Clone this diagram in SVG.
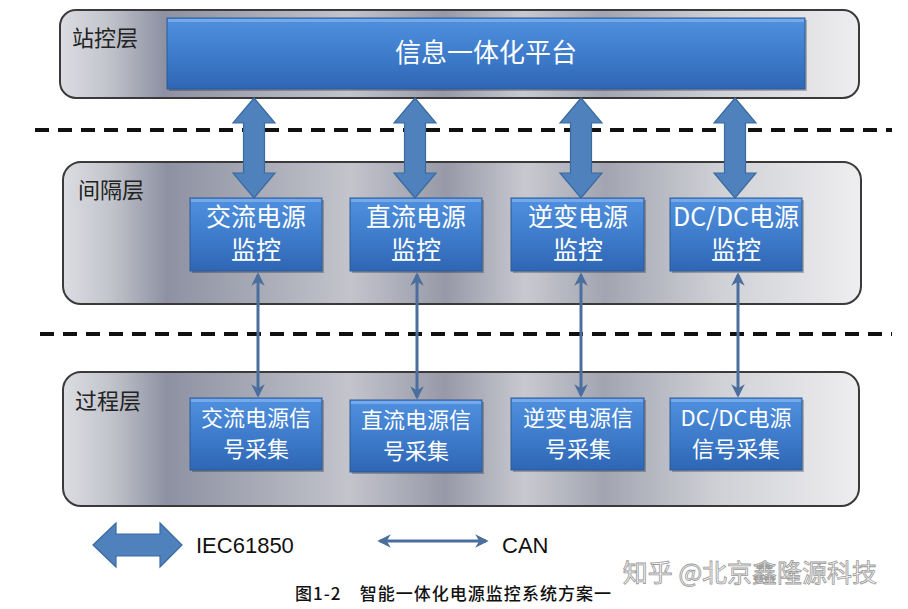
<svg xmlns="http://www.w3.org/2000/svg" width="908" height="609" viewBox="0 0 908 609">
<defs>
<style>
.panel{stroke:#3a3a3a;stroke-width:2}
.box{fill:url(#blue);stroke:#2a5a98;stroke-width:1}
.shadow{fill:#000;opacity:0.25}
.hl{fill:#7fb0ee;opacity:0.8}
.lbl{font-family:"Noto Sans CJK SC","Noto Sans",sans-serif;font-size:22px;fill:#222}
.bt{font-family:"Noto Sans CJK SC","Noto Sans",sans-serif;fill:#fff;text-anchor:middle}
.dash{stroke:#111;stroke-width:4;stroke-dasharray:14 9;fill:none}
.thick{fill:#4f81bd;stroke:#3b6aa0;stroke-width:1.2}
.thin{stroke:#4a6f9e;stroke-width:3;fill:none;marker-start:url(#ah);marker-end:url(#ah)}
.leg{font-family:"Liberation Sans","Noto Sans",sans-serif;font-size:22px;fill:#111}
</style>
<linearGradient id="metal" x1="0" y1="0" x2="1" y2="0">
<stop offset="0" stop-color="#dcdde2"/>
<stop offset="0.06" stop-color="#c2c4cc"/>
<stop offset="0.13" stop-color="#8e91a2"/>
<stop offset="0.25" stop-color="#a9abb7"/>
<stop offset="0.36" stop-color="#c3c4cc"/>
<stop offset="0.48" stop-color="#9799a8"/>
<stop offset="0.58" stop-color="#c8c9d0"/>
<stop offset="0.68" stop-color="#a2a4b1"/>
<stop offset="0.82" stop-color="#cfd0d5"/>
<stop offset="1" stop-color="#eeeef0"/>
</linearGradient>
<linearGradient id="blue" x1="0" y1="0" x2="0" y2="1">
<stop offset="0" stop-color="#4f90de"/>
<stop offset="0.5" stop-color="#3f7dcc"/>
<stop offset="1" stop-color="#2e66b4"/>
</linearGradient>
<marker id="ah" viewBox="0 0 10 10" refX="8" refY="5" markerWidth="4.5" markerHeight="4.5" orient="auto-start-reverse">
<path d="M0,0 L10,5 L0,10 L3,5 z" fill="#4a6f9e"/>
</marker>
<path id="darrow" d="M0,0 L21,25 L10.5,25 L10.5,75 L21,75 L0,100 L-21,75 L-10.5,75 L-10.5,25 L-21,25 z"/>
</defs>

<rect width="908" height="609" fill="#fff"/>

<g id="layer-station">
<rect class="panel" x="60" y="10" width="799" height="88" rx="16" fill="url(#metal)"/>
<text class="lbl" x="72" y="46">站控层</text>
</g>
<g id="layer-bay">
<rect class="panel" x="63" y="162" width="798" height="142" rx="18" fill="url(#metal)"/>
<text class="lbl" x="78" y="198">间隔层</text>
</g>
<g id="layer-process">
<rect class="panel" x="63" y="372" width="796" height="134" rx="18" fill="url(#metal)"/>
<text class="lbl" x="75" y="409">过程层</text>
</g>

<line class="dash" x1="35" y1="130" x2="892" y2="130"/>
<line class="dash" x1="40" y1="334" x2="892" y2="334"/>

<g id="platform">
<rect class="shadow" x="169" y="20" width="638" height="71"/>
<rect class="box" x="167" y="18" width="638" height="71"/>
<rect class="hl" x="168" y="19" width="636" height="3"/>
<text class="bt" x="486" y="62" font-size="26">信息一体化平台</text>
</g>

<g id="ac-monitor">
<rect class="shadow" x="192" y="200" width="132" height="73"/>
<rect class="box" x="190" y="198" width="132" height="73"/>
<rect class="hl" x="191" y="199" width="130" height="3"/>
<text class="bt" x="256" y="226" font-size="25">交流电源</text>
<text class="bt" x="256" y="259" font-size="25">监控</text>
</g>
<g id="dc-monitor">
<rect class="shadow" x="352" y="200" width="132" height="73"/>
<rect class="box" x="350" y="198" width="132" height="73"/>
<rect class="hl" x="351" y="199" width="130" height="3"/>
<text class="bt" x="416" y="226" font-size="25">直流电源</text>
<text class="bt" x="416" y="259" font-size="25">监控</text>
</g>
<g id="inv-monitor">
<rect class="shadow" x="513" y="200" width="133" height="73"/>
<rect class="box" x="511" y="198" width="133" height="73"/>
<rect class="hl" x="512" y="199" width="131" height="3"/>
<text class="bt" x="578" y="226" font-size="25">逆变电源</text>
<text class="bt" x="578" y="259" font-size="25">监控</text>
</g>
<g id="dcdc-monitor">
<rect class="shadow" x="672" y="200" width="132" height="73"/>
<rect class="box" x="670" y="198" width="132" height="73"/>
<rect class="hl" x="671" y="199" width="130" height="3"/>
<text class="bt" x="736" y="226" font-size="25">DC/DC电源</text>
<text class="bt" x="736" y="259" font-size="25">监控</text>
</g>

<g id="ac-acq">
<rect class="shadow" x="192" y="400" width="132" height="72"/>
<rect class="box" x="190" y="398" width="132" height="72"/>
<rect class="hl" x="191" y="399" width="130" height="3"/>
<text class="bt" x="256" y="426" font-size="22">交流电源信</text>
<text class="bt" x="256" y="457" font-size="22">号采集</text>
</g>
<g id="dc-acq">
<rect class="shadow" x="352" y="402" width="132" height="72"/>
<rect class="box" x="350" y="400" width="132" height="72"/>
<rect class="hl" x="351" y="401" width="130" height="3"/>
<text class="bt" x="416" y="428" font-size="22">直流电源信</text>
<text class="bt" x="416" y="459" font-size="22">号采集</text>
</g>
<g id="inv-acq">
<rect class="shadow" x="513" y="400" width="133" height="72"/>
<rect class="box" x="511" y="398" width="133" height="72"/>
<rect class="hl" x="512" y="399" width="131" height="3"/>
<text class="bt" x="578" y="426" font-size="22">逆变电源信</text>
<text class="bt" x="578" y="457" font-size="22">号采集</text>
</g>
<g id="dcdc-acq">
<rect class="shadow" x="672" y="400" width="132" height="72"/>
<rect class="box" x="670" y="398" width="132" height="72"/>
<rect class="hl" x="671" y="399" width="130" height="3"/>
<text class="bt" x="736" y="426" font-size="22">DC/DC电源</text>
<text class="bt" x="736" y="457" font-size="22">信号采集</text>
</g>

<g id="connectors">
<use href="#darrow" class="thick" transform="translate(254,98)"/>
<use href="#darrow" class="thick" transform="translate(415,98)"/>
<use href="#darrow" class="thick" transform="translate(581,98)"/>
<use href="#darrow" class="thick" transform="translate(735,98)"/>
<line class="thin" x1="258" y1="275" x2="258" y2="395"/>
<line class="thin" x1="417" y1="275" x2="417" y2="397"/>
<line class="thin" x1="581" y1="275" x2="581" y2="395"/>
<line class="thin" x1="738" y1="275" x2="738" y2="395"/>
</g>

<g id="legend">
<path class="thick" d="M93,545 L116,523 L116,534 L160,534 L160,523 L182,545 L160,567 L160,556 L116,556 L116,567 z"/>
<text class="leg" x="196" y="553">IEC61850</text>
<line class="thin" x1="380" y1="541" x2="486" y2="541"/>
<text class="leg" x="502" y="553">CAN</text>
</g>

<text x="453" y="600" text-anchor="middle" font-family="Noto Sans CJK SC,sans-serif" font-size="17" font-weight="500" fill="#111" textLength="316" lengthAdjust="spacing">图1-2　智能一体化电源监控系统方案一</text>
<text x="750" y="582" text-anchor="middle" font-family="Noto Sans CJK SC,sans-serif" font-size="25" fill="#f6f6f6" stroke="#9a9a9a" stroke-width="0.8">知乎 @北京鑫隆源科技</text>
</svg>
